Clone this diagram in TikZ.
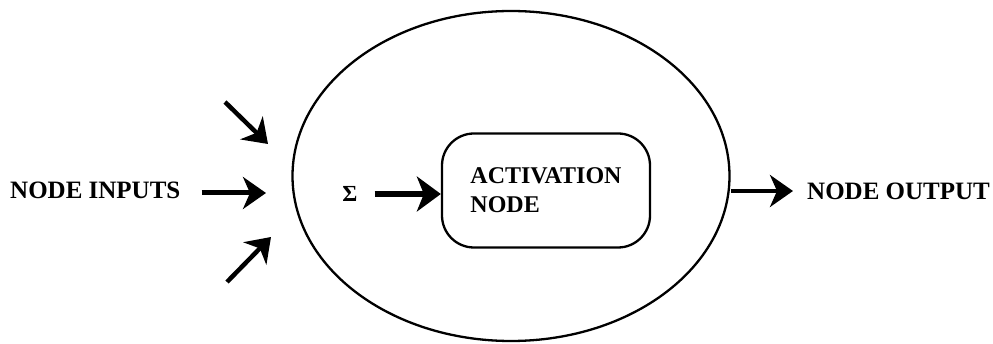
\documentclass[tikz,border=0pt]{standalone}
\usepackage{fontspec}
\setmainfont{Liberation Serif}
\usetikzlibrary{shapes.geometric,arrows.meta}
\tikzset{
  arr/.style={line width=4.5pt, -{Stealth[length=23pt, width=32pt, inset=7pt]}},
  label/.style={inner sep=0pt, font=\fontsize{25}{29}\selectfont\bfseries},
  outline/.style={draw, line width=2.3pt}
}
\begin{document}
\begin{tikzpicture}[x=1pt,y=-1pt]
\useasboundingbox (0,0) rectangle (993,344);
% main neuron ellipse
\node[outline, ellipse, minimum width=437pt, minimum height=330pt, inner sep=0pt] (neuron) at (511,176) {};
% activation box
\node[outline, rounded corners=32pt, minimum width=208pt, minimum height=114pt, inner sep=0pt,
      align=left, font=\fontsize{24}{29}\selectfont\bfseries] (act) at (546,190.5) {ACTIVATION\\NODE};
% sigma
\node[inner sep=0pt, font=\fontsize{23}{25}\selectfont\bfseries] (sig) at (350,194) {Σ};
% texts
\node[label, anchor=west] (inp) at (10,190) {NODE INPUTS};
\node[label, anchor=west] (out) at (807,191) {NODE OUTPUT};
% free ends of input arrows
\coordinate (t1) at (225,102);
\coordinate (t2) at (268,144);
\coordinate (m2) at (266,193);
\coordinate (b1) at (227,282);
\coordinate (b2) at (271,237);
% connectors
\draw[arr] (t1) -- (t2);
\draw[arr, line width=5pt, shorten <=21pt] ([yshift=-3pt]inp.east) -- (m2);
\draw[arr] (b1) -- (b2);
\draw[arr, line width=5.5pt, -{Stealth[length=24pt, width=35pt, inset=7pt]}, shorten <=17pt] (sig.east) -- (sig.east -| act.west);
\draw[arr, shorten >=14pt] (out.west -| neuron.east) -- (out.west);
\end{tikzpicture}
\end{document}
